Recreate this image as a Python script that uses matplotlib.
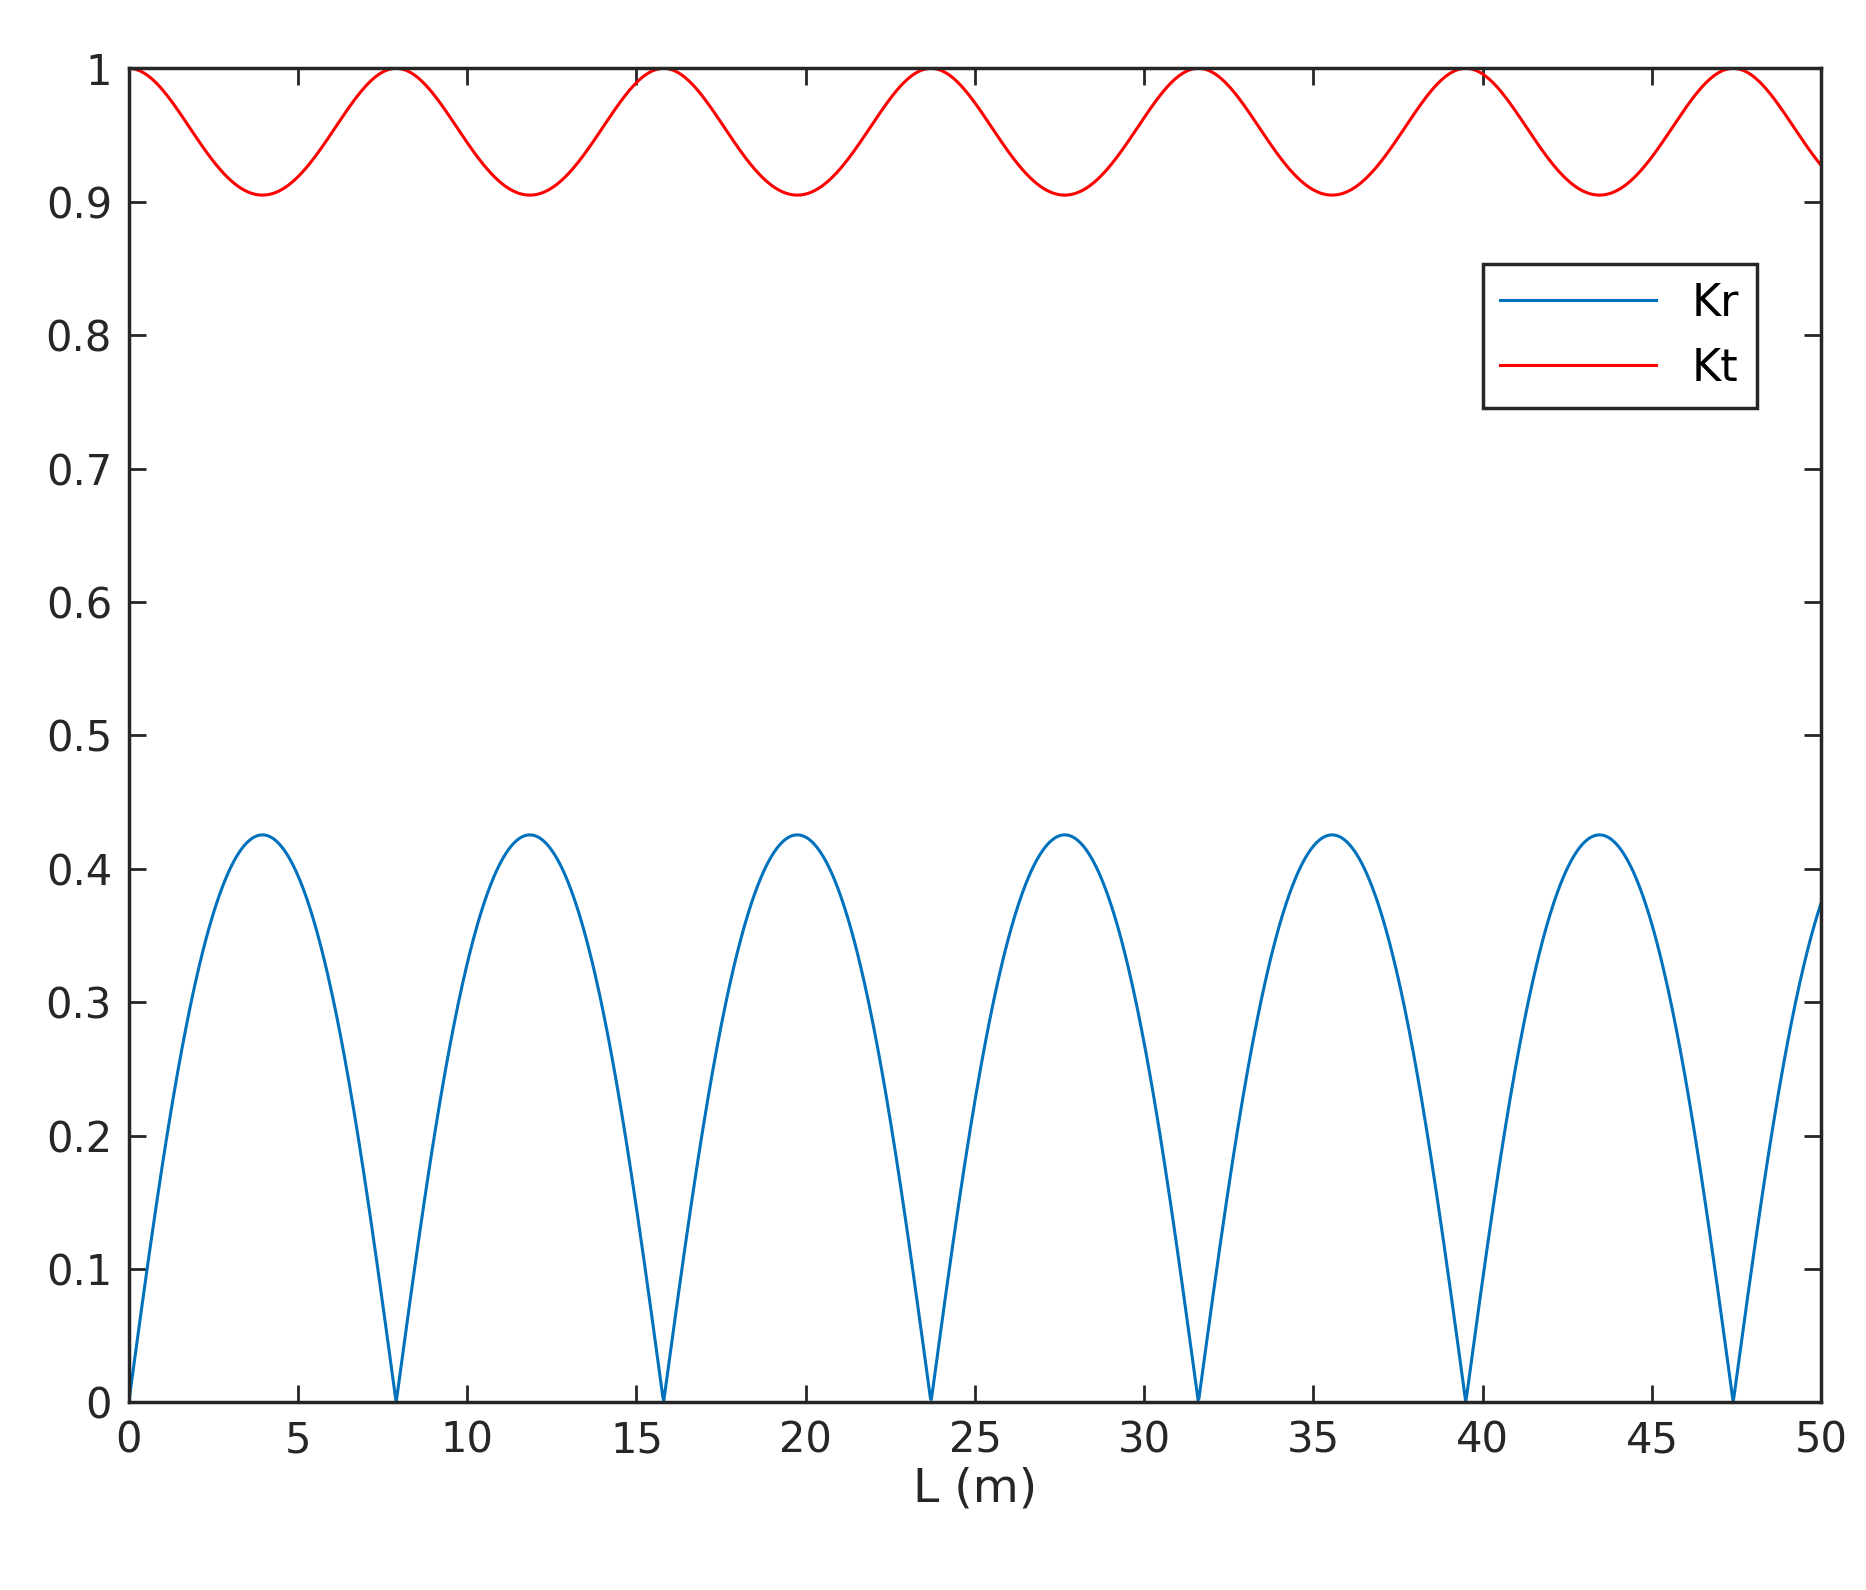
import numpy as np
import matplotlib.pyplot as plt

# model: Kt min 0.905, zeros of Kr every 7.9 m
x_min, x_max = 0, 50
period = 7.9
kt_min = 0.905
x_ticks = [0, 5, 10, 15, 20, 25, 30, 35, 40, 45, 50]
y_ticks = [0, 0.1, 0.2, 0.3, 0.4, 0.5, 0.6, 0.7, 0.8, 0.9, 1]
y_labels = ['0', '0.1', '0.2', '0.3', '0.4', '0.5', '0.6', '0.7', '0.8', '0.9', '1']

L = np.linspace(x_min, x_max, 2000)
A = 1 / kt_min**2 - 1
Kt = 1 / np.sqrt(1 + A * np.sin(np.pi * L / period) ** 2)
Kr = np.sqrt(1 - Kt**2)

fig = plt.figure(figsize=(18.66, 15.9), dpi=100)
ax = fig.add_axes([0.069, 0.118, 0.907, 0.839])
ax.plot(L, Kr, color='#0072BD', lw=2.2, label='Kr')
ax.plot(L, Kt, color='#FF0000', lw=2.2, label='Kt')
ax.set_xlim(x_min, x_max)
ax.set_ylim(0, 1)
ax.set_xticks(x_ticks)
ax.set_yticks(y_ticks)
ax.set_yticklabels(y_labels)
ax.tick_params(direction='in', top=True, right=True, length=12, width=2,
               labelsize=30, colors='#262626', pad=12)
for s in ax.spines.values():
    s.set_color('#262626')
    s.set_linewidth(2.5)
ax.set_xlabel('L (m)', fontsize=34, color='#262626')
leg = ax.legend(loc='upper right', bbox_to_anchor=(0.975, 0.87), fontsize=32,
                fancybox=False, edgecolor='#262626', handlelength=3.5,
                borderpad=0.4, framealpha=1)
leg.get_frame().set_linewidth(2.5)
fig.savefig('out.png', dpi=100, facecolor='white')
